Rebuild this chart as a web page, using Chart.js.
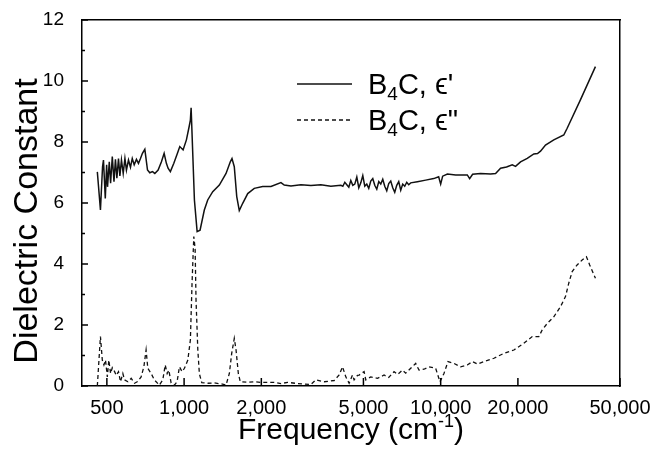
<!DOCTYPE html>
<html>
<head>
<meta charset="utf-8">
<script src="https://cdn.jsdelivr.net/npm/chart.js@4"></script>
<style>
body { margin: 0; background: #fff; }
</style>
</head>
<body>
<canvas id="chart" width="653" height="449"></canvas>
<script>
// epsilon' (solid curve): frequency in cm-1 and value
const realFreq = [459, 472, 481, 485, 493, 499, 503, 511, 517, 525, 533, 540, 547, 555, 562, 570, 579, 588, 596, 607,
    618, 628, 639, 652, 664, 676, 688, 703, 720, 735, 753, 769, 792, 816, 836, 853, 866, 884, 912, 942,
    962, 991, 1021, 1046, 1058, 1065, 1097, 1124, 1154, 1199, 1236, 1293, 1372, 1457, 1514, 1537, 1569, 1604, 1641, 1692,
    1770, 1877, 2024, 2181, 2385, 2457, 2609, 2853, 3121, 3413, 3733, 4083,
    4156, 4231, 4307, 4385, 4464, 4545, 4627, 4711, 4796, 4883, 4971, 5061, 5152, 5245, 5340, 5437, 5535, 5636, 5738, 5841,
    5947, 6054, 6164, 6275, 6389, 6504, 6622, 6742, 6864, 6988, 7114, 7243, 7374, 7507, 7643,
    8115, 8745, 9393, 9822, 10000, 10180, 10620, 11440, 12700, 12970, 13320, 14300, 15650, 16370, 17120, 18060, 19010, 19580,
    20480, 21750, 23070, 23850, 24500, 25620, 27600, 30190, 31120, 35050, 40110];
const realEps = [7.02, 5.77, 7.19, 7.41, 6.15, 7.25, 6.53, 7.35, 6.65, 7.52, 6.70, 7.43, 6.81, 7.46, 6.89, 7.41, 6.97, 7.46, 7.08, 7.41,
    7.17, 7.46, 7.25, 7.43, 7.30, 7.46, 7.63, 7.76, 7.08, 6.99, 7.03, 6.97, 7.08, 7.35, 7.63, 7.30, 7.14, 7.03, 7.30, 7.63,
    7.85, 7.74, 8.07, 8.50, 8.72, 9.12, 6.10, 5.06, 5.11, 5.77, 6.10, 6.37, 6.59, 6.97, 7.35, 7.46, 7.19, 6.21, 5.75, 5.99,
    6.31, 6.48, 6.54, 6.54, 6.67, 6.59, 6.56, 6.60, 6.57, 6.60, 6.55, 6.58,
    6.55, 6.68, 6.60, 6.52, 6.74, 6.58, 6.62, 6.85, 6.50, 6.66, 6.90, 6.55, 6.62, 6.48, 6.72, 6.80, 6.58, 6.45, 6.70, 6.62,
    6.78, 6.55, 6.40, 6.64, 6.72, 6.50, 6.35, 6.58, 6.70, 6.42, 6.62, 6.55, 6.68, 6.60, 6.66,
    6.70, 6.75, 6.80, 6.86, 6.62, 6.88, 6.95, 6.92, 6.92, 6.80, 6.94, 6.97, 6.95, 6.97, 7.14, 7.18, 7.25, 7.20,
    7.35, 7.46, 7.61, 7.62, 7.70, 7.90, 8.07, 8.23, 8.45, 9.38, 10.47];

// epsilon'' (dashed curve)
const imagFreq = [459, 472, 480, 487, 494, 502, 509, 517, 525, 536, 544, 555, 565, 577, 586, 604, 622, 641, 660, 680,
    697, 711, 722, 744, 766, 801, 826, 844, 859, 872, 890, 917, 939, 959, 982, 1003, 1034, 1058, 1074, 1091,
    1104, 1113, 1131, 1147, 1172, 1236, 1312, 1393, 1457, 1501, 1533, 1569, 1594, 1627, 1656, 1770, 1877, 1994, 2117, 2246,
    2385, 2533, 2770, 3121, 3264, 3516, 3845, 4021, 4145, 4268, 4398, 4533, 4598, 4742, 4810, 5030, 5108, 5340, 5671, 6017,
    6275, 6582, 6803, 7096, 7309, 7643, 7993, 8234, 8610, 9005, 9561, 9938, 10300, 10680, 11270, 11960, 12700, 13290, 13900, 14740,
    16130, 17630, 19290, 21090, 22740, 24130, 24880, 26020, 27600, 29310, 30650, 31570, 32550, 34030, 35600, 36990, 38090, 40110];
const imagEps = [0.00, 1.62, 0.85, 0.69, 0.85, 0.30, 0.85, 0.41, 0.60, 0.47, 0.35, 0.47, 0.14, 0.41, 0.20, 0.14, 0.25, 0.09, 0.15, 0.30,
    0.63, 1.18, 0.58, 0.41, 0.20, 0.03, 0.20, 0.69, 0.41, 0.52, 0.10, 0.03, 0.14, 0.63, 0.47, 0.58, 0.85, 1.51, 3.37, 4.90,
    4.50, 2.82, 1.18, 0.40, 0.11, 0.09, 0.10, 0.07, 0.03, 0.41, 1.07, 1.56, 1.18, 0.41, 0.14, 0.12, 0.14, 0.12, 0.12, 0.12,
    0.08, 0.12, 0.08, 0.05, 0.20, 0.14, 0.18, 0.36, 0.63, 0.30, 0.09, 0.36, 0.20, 0.35, 0.36, 0.47, 0.20, 0.30, 0.25, 0.36,
    0.28, 0.47, 0.38, 0.52, 0.42, 0.58, 0.74, 0.52, 0.55, 0.63, 0.58, 0.14, 0.41, 0.80, 0.74, 0.63, 0.69, 0.80, 0.72, 0.80,
    0.91, 1.07, 1.18, 1.40, 1.62, 1.62, 1.84, 2.05, 2.27, 2.60, 2.93, 3.37, 3.75, 3.97, 4.13, 4.24, 3.97, 3.53];

const xTickValues = [500, 1000, 2000, 5000, 10000, 20000, 50000];
const yMajorTicks = [0, 2, 4, 6, 8, 10, 12];
const yMinorTicks = [1, 3, 5, 7, 9, 11];
const seriesNames = ["ϵ'", 'ϵ"'];

const fontName = "'Liberation Sans', Arial, sans-serif";
Chart.defaults.color = '#000';
Chart.defaults.font.family = fontName;

function toPoints(xs, ys) {
    return xs.map((x, i) => ({ x: x, y: ys[i] }));
}

// axis line only, no grid lines and no outside ticks
const frameGrid = { drawOnChartArea: false, drawTicks: false };
const frameBorder = { display: true, color: '#000', width: 1.5 };

// inward ticks, legend and axis titles
const decorations = {
    id: 'decorations',
    afterDraw(chart) {
        const { ctx, chartArea: a, scales } = chart;
        const l = a.left, r = a.right, t = a.top, b = a.bottom;
        ctx.save();
        ctx.strokeStyle = '#000';
        ctx.lineWidth = 1.5;
        ctx.beginPath();
        yMajorTicks.forEach(v => {
            const y = scales.y.getPixelForValue(v);
            ctx.moveTo(l, y);
            ctx.lineTo(l + 6, y);
        });
        yMinorTicks.forEach(v => {
            const y = scales.y.getPixelForValue(v);
            ctx.moveTo(l, y);
            ctx.lineTo(l + 3, y);
        });
        xTickValues.forEach(v => {
            const x = scales.x.getPixelForValue(v);
            ctx.moveTo(x, b);
            ctx.lineTo(x, b - 8);
        });
        ctx.stroke();

        // legend
        ctx.strokeStyle = '#111';
        chart.data.datasets.forEach((ds, i) => {
            const y = t + 64 + i * 36;
            ctx.beginPath();
            ctx.lineWidth = ds.borderWidth;
            ctx.setLineDash(ds.borderDash || []);
            ctx.moveTo(l + 215, y);
            ctx.lineTo(l + 270, y);
            ctx.stroke();
            ctx.setLineDash([]);

            let x = l + 286;
            const base = y + 10;
            ctx.textBaseline = 'alphabetic';
            ctx.textAlign = 'left';
            ctx.font = '29px ' + fontName;
            ctx.fillText('B', x, base);
            x += ctx.measureText('B').width;
            ctx.font = '19px ' + fontName;
            ctx.fillText('4', x, base + 6);
            x += ctx.measureText('4').width;
            ctx.font = '29px ' + fontName;
            ctx.fillText('C, ' + seriesNames[i], x, base);
        });

        // x title with superscript
        ctx.font = '30px ' + fontName;
        const t1 = 'Frequency (cm', t3 = ')';
        const w1 = ctx.measureText(t1).width, w3 = ctx.measureText(t3).width;
        ctx.font = '18px ' + fontName;
        const t2 = '-1';
        const w2 = ctx.measureText(t2).width;
        let tx = (l + r) / 2 - (w1 + w2 + w3) / 2;
        const ty = 439;
        ctx.font = '30px ' + fontName;
        ctx.fillText(t1, tx, ty);
        tx += w1;
        ctx.font = '18px ' + fontName;
        ctx.fillText(t2, tx, ty - 12);
        tx += w2;
        ctx.font = '30px ' + fontName;
        ctx.fillText(t3, tx, ty);

        // y title
        ctx.translate(37, 221);
        ctx.rotate(-Math.PI / 2);
        ctx.textAlign = 'center';
        ctx.font = '34px ' + fontName;
        ctx.fillText('Dielectric Constant', 0, 0);
        ctx.restore();
    }
};

new Chart(document.getElementById('chart'), {
    type: 'line',
    data: {
        datasets: [{
            label: "B4C, ϵ'",
            data: toPoints(realFreq, realEps),
            borderColor: '#111',
            borderWidth: 1.5,
            pointRadius: 0,
            tension: 0
        }, {
            label: 'B4C, ϵ"',
            data: toPoints(imagFreq, imagEps),
            borderColor: '#111',
            borderWidth: 1.3,
            borderDash: [4, 3],
            pointRadius: 0,
            tension: 0
        }]
    },
    options: {
        responsive: false,
        animation: false,
        layout: { padding: { left: 0, top: 20, right: 33, bottom: 0 } },
        plugins: {
            legend: { display: false },
            tooltip: { enabled: false }
        },
        scales: {
            x: {
                type: 'logarithmic',
                min: 400,
                max: 50000,
                afterBuildTicks: (s) => { s.ticks = xTickValues.map(v => ({ value: v })); },
                afterFit: (s) => { s.height = 63; },
                ticks: {
                    autoSkip: false,
                    maxRotation: 0,
                    padding: 2,
                    font: { size: 20, lineHeight: 2.0 },
                    callback: (v) => Number(v).toLocaleString('en-US')
                },
                grid: frameGrid,
                border: frameBorder
            },
            x2: {
                type: 'logarithmic',
                position: 'top',
                min: 400,
                max: 50000,
                afterFit: (s) => { s.height = 0; },
                ticks: { display: false },
                grid: frameGrid,
                border: frameBorder
            },
            y: {
                min: 0,
                max: 12,
                afterFit: (s) => { s.width = 82; },
                ticks: {
                    stepSize: 2,
                    padding: 18,
                    font: { size: 19, lineHeight: 0.1 }
                },
                grid: frameGrid,
                border: frameBorder
            },
            y2: {
                position: 'right',
                min: 0,
                max: 12,
                afterFit: (s) => { s.width = 0; },
                ticks: { display: false },
                grid: frameGrid,
                border: frameBorder
            }
        }
    },
    plugins: [decorations]
});
</script>
</body>
</html>
